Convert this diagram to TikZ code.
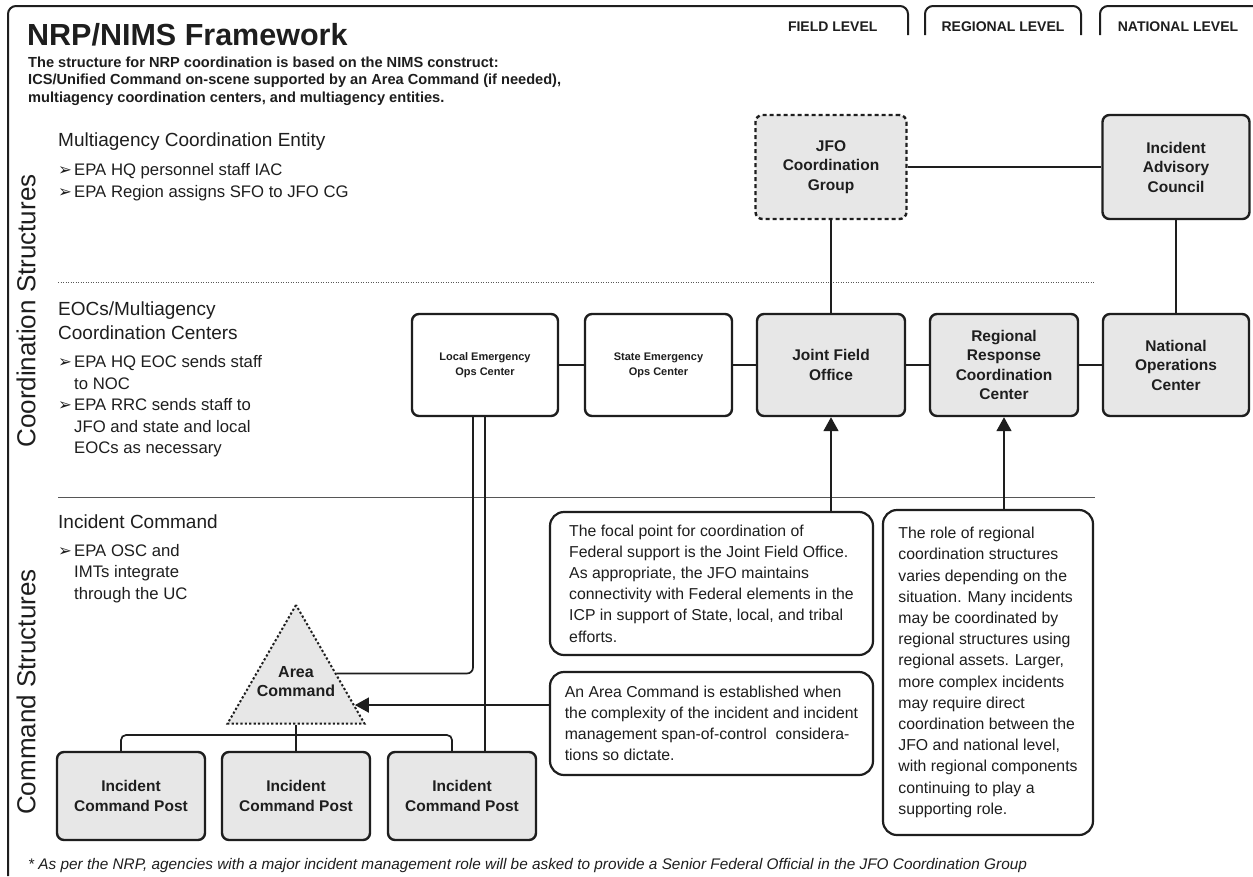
\documentclass[tikz,border=0pt]{standalone}
\usepackage{fontspec}
\setmainfont{Liberation Sans}
\newfontfamily\dejavu{DejaVu Sans}
\usetikzlibrary{arrows.meta,shapes.geometric,calc}
\definecolor{ink}{HTML}{1E1E1E}
\definecolor{boxgray}{HTML}{E7E7E7}
\newcommand\bul{\makebox[16pt][l]{\dejavu\fontsize{16.5}{16.5}\selectfont ➢}}
\newcommand\hang{\hspace*{16pt}}
\begin{document}
\begin{tikzpicture}[x=1pt,y=-1pt,
  box/.style={draw=ink, line width=2.4pt, rounded corners=7pt, align=center, text=ink,
    font=\bfseries\fontsize{15.5}{19.5}\selectfont, inner sep=2pt},
  graybox/.style={box, fill=boxgray},
  whitebox/.style={box, fill=white, font=\bfseries\fontsize{11}{15}\selectfont},
  conn/.style={draw=ink, line width=1.7pt},
  arr/.style={conn, -{Triangle[width=15pt,length=14pt]}},
  callout/.style={draw=ink, line width=2.2pt, rounded corners=14pt, align=left, text=ink,
    font=\fontsize{15.8}{21.2}\selectfont, inner sep=0pt},
  frame/.style={draw=ink, line width=2pt},
  lefttext/.style={anchor=west, align=left, inner sep=0pt, text=ink},
  head/.style={lefttext, font=\fontsize{19}{24}\selectfont},
  bultext/.style={lefttext, font=\fontsize{16.7}{21.5}\selectfont},
  tabtext/.style={font=\bfseries\fontsize{14}{14}\selectfont, text=ink},
  sidelabel/.style={rotate=90, font=\fontsize{26}{26}\selectfont, text=ink}
]
\useasboundingbox (0,0) rectangle (1253,876);
\fill[white] (0,0) rectangle (1253,876);

% frame and level tabs
\draw[frame, rounded corners=8pt] (8,876) -- (8,6) -- (908,6) -- (908,35);
\draw[frame, rounded corners=8pt] (925,35) -- (925,6) -- (1081,6) -- (1081,35);
\draw[frame, rounded corners=8pt] (1100,35) -- (1100,6) -- (1262,6);
\node[tabtext, anchor=east] (fl) at (881,27) {FIELD LEVEL};
\node[tabtext] (rl) at (1003,27) {REGIONAL LEVEL};
\node[tabtext] (nl) at (1178,27) {NATIONAL LEVEL};

% title
\node[anchor=base west, inner sep=0pt, text=ink, font=\bfseries\fontsize{30.5}{30.5}\selectfont] (title) at (27,45) {NRP/NIMS Framework};
\node[lefttext, font=\bfseries\fontsize{14.6}{17.5}\selectfont] (sub) at (28,81)
  {The structure for NRP coordination is based on the NIMS construct:\\
   ICS/Unified Command on-scene supported by an Area Command (if needed),\\
   multiagency coordination centers, and multiagency entities.};

% side labels
\node[sidelabel] (lbl1) at (26,311) {Coordination Structures};
\node[sidelabel] (lbl2) at (26,692) {Command Structures};

% dividers
\draw[draw=ink!75, line width=0.9pt, dash pattern=on 1pt off 1.5pt] (58,282) -- (1095,282);
\draw[draw=ink!75, line width=0.9pt] (58,497) -- (1095,497);

% left texts
\node[head] (h1) at (58,142) {Multiagency Coordination Entity};
\node[bultext] (b1) at (58,182) {\bul EPA HQ personnel staff IAC\\\bul EPA Region assigns SFO to JFO CG};
\node[head] (h2) at (58,321) {EOCs/Multiagency\\Coordination Centers};
\node[bultext] (b2) at (58,406.5) {\bul EPA HQ EOC sends staff\\\hang to NOC\\\bul EPA RRC sends staff to\\\hang JFO and state and local\\\hang EOCs as necessary};
\node[head] (h3) at (58,522) {Incident Command};
\node[bultext] (b3) at (58,573.5) {\bul EPA OSC and\\\hang IMTs integrate\\\hang through the UC};

% top row
\node[graybox, dash pattern=on 4pt off 3pt, minimum width=151, minimum height=104] (jfocg) at (831,167) {JFO\\Coordination\\Group};
\node[graybox, minimum width=147, minimum height=104] (iac) at (1176,167) {Incident\\Advisory\\Council};

% second row
\node[whitebox, minimum width=146, minimum height=102] (lec) at (485,365) {Local Emergency\\Ops Center};
\node[whitebox, minimum width=147, minimum height=102] (sec) at (658.5,365) {State Emergency\\Ops Center};
\node[graybox, minimum width=148, minimum height=102] (jfo) at (831,365) {Joint Field\\Office};
\node[graybox, minimum width=148, minimum height=102] (rrcc) at (1004,365) {Regional\\Response\\Coordination\\Center};
\node[graybox, minimum width=146, minimum height=102] (noc) at (1176,365) {National\\Operations\\Center};

% command posts
\node[graybox, minimum width=148, minimum height=88] (icp1) at (131,796) {Incident\\Command Post};
\node[graybox, minimum width=148, minimum height=88] (icp2) at (296,796) {Incident\\Command Post};
\node[graybox, minimum width=148, minimum height=88] (icp3) at (462,796) {Incident\\Command Post};

% area command triangle
\node[draw=ink, fill=boxgray, line width=2pt, dash pattern=on 2.2pt off 2.2pt, regular polygon, regular polygon sides=3, minimum size=158, inner sep=0pt] (ac) at (296,684) {};
\node[align=center, text=ink, font=\bfseries\fontsize{16}{19}\selectfont] (actext) at (296,682) {Area\\Command};

% callouts
\node[callout, minimum width=323, minimum height=143] (c1) at (711.5,583.5)
  {The focal point for coordination of\\Federal support is the Joint Field Office.\\As appropriate, the JFO maintains\\connectivity with Federal elements in the\\ICP in support of State, local, and tribal\\efforts.};
\node[callout, minimum width=323, minimum height=103] (c2) at (711.5,723.5)
  {An Area Command is established when\\the complexity of the incident and incident\\management span-of-control\ \ considera-\\tions so dictate.};
\node[callout, minimum width=210, minimum height=325] (c3) at (988,672.5)
  {The role of regional\\coordination structures\\varies depending on the\\situation. Many incidents\\may be coordinated by\\regional structures using\\regional assets. Larger,\\more complex incidents\\may require direct\\coordination between the\\JFO and national level,\\with regional components\\continuing to play a\\supporting role.};

% connectors
\draw[conn] (jfocg) -- (iac);
\draw[conn] (jfocg) -- (jfo);
\draw[conn] (iac) -- (noc);
\draw[conn] (lec) -- (sec);
\draw[conn] (sec) -- (jfo);
\draw[conn] (jfo) -- (rrcc);
\draw[conn] (rrcc) -- (noc);
\draw[arr] (c1.north -| jfo.south) -- (jfo.south);
\draw[arr] (c3.north -| rrcc.south) -- (rrcc.south);
\coordinate (acR1) at ($(ac.corner 1)!0.58!(ac.corner 3)$);
\coordinate (acR2) at ($(ac.corner 1)!0.84!(ac.corner 3)$);
\draw[conn, rounded corners=6pt] ([xshift=-12pt]lec.south) |- (acR1);
\draw[conn] (lec.south) -- (lec.south |- icp3.north);
\draw[arr] (c2.west |- acR2) -- (acR2);
\coordinate (treemid) at (296,735);
\draw[conn, rounded corners=5pt] ([xshift=-10pt]icp1.north) |- (treemid) -| ([xshift=-10pt]icp3.north);
\draw[conn] (ac.side 2) -- (icp2.north);

% footnote
\node[lefttext, font=\itshape\fontsize{15.35}{15.35}\selectfont] (fn) at (28,866)
  {* As per the NRP, agencies with a major incident management role will be asked to provide a Senior Federal Official in the JFO Coordination Group};
\end{tikzpicture}
\end{document}
